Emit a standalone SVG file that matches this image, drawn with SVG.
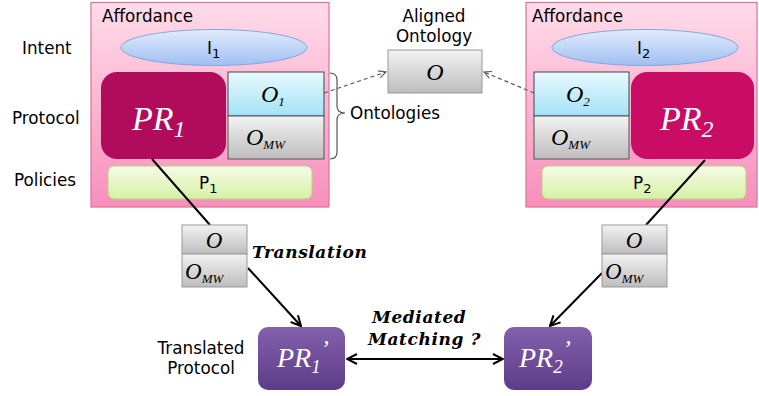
<svg xmlns="http://www.w3.org/2000/svg" width="759" height="396" viewBox="0 0 759 396">
<defs>
<linearGradient id="gPink" x1="0" y1="0" x2="0" y2="1"><stop offset="0" stop-color="#ffdce9"/><stop offset="1" stop-color="#f78fbb"/></linearGradient>
<linearGradient id="gBlue" x1="0" y1="0" x2="0" y2="1"><stop offset="0" stop-color="#e2ecfc"/><stop offset="1" stop-color="#9fbff2"/></linearGradient>
<linearGradient id="gCyan" x1="0" y1="0" x2="0" y2="1"><stop offset="0" stop-color="#e9f9fe"/><stop offset="1" stop-color="#a2e2f7"/></linearGradient>
<linearGradient id="gGray" x1="0" y1="0" x2="0" y2="1"><stop offset="0" stop-color="#f3f3f3"/><stop offset="1" stop-color="#bdbdbd"/></linearGradient>
<linearGradient id="gGreen" x1="0" y1="0" x2="0" y2="1"><stop offset="0" stop-color="#f6fce6"/><stop offset="1" stop-color="#d6f0a6"/></linearGradient>
<linearGradient id="gPurple" x1="0" y1="0" x2="0" y2="1"><stop offset="0" stop-color="#8460ac"/><stop offset="1" stop-color="#5c3c88"/></linearGradient>
<marker id="arr" viewBox="0 0 12 12" refX="11" refY="6" markerWidth="12" markerHeight="12" markerUnits="userSpaceOnUse" orient="auto-start-reverse"><path d="M1,1 L11,6 L1,11" fill="none" stroke="#000" stroke-width="2"/></marker>
<marker id="darr" viewBox="0 0 10 10" refX="9" refY="5" markerWidth="9" markerHeight="9" markerUnits="userSpaceOnUse" orient="auto"><path d="M1,1 L9,5 L1,9" fill="none" stroke="#555" stroke-width="1.2"/></marker>
</defs>
<style>
.lbl{font-family:"DejaVu Sans",Verdana,sans-serif;font-size:16.8px;fill:#000}
.math{font-family:"Liberation Serif","Times New Roman",serif;font-style:italic;fill:#000}
.script{font-family:"DejaVu Serif","Liberation Serif",serif;font-style:italic;font-weight:bold;fill:#000;letter-spacing:0.6px}
.aff{fill:url(#gPink);stroke:#e0709a;stroke-width:1.2}
.ell{fill:url(#gBlue);stroke:#86a6dc;stroke-width:1}
.cyan{fill:url(#gCyan);stroke:#444;stroke-width:1}
.gray{fill:url(#gGray);stroke:#555;stroke-width:1}
.gray2{fill:url(#gGray);stroke:#999;stroke-width:1}
.green{fill:url(#gGreen);stroke:#b5d47e;stroke-width:1}
.pr{fill:#fff;font-family:"Liberation Serif","Times New Roman",serif;font-style:italic}
.conn{stroke:#000;stroke-width:2;fill:none}
.dash{stroke:#555;stroke-width:1.2;stroke-dasharray:4,3;fill:none}
</style>

<g id="row-labels">
<text class="lbl" x="22" y="54">Intent</text>
<text class="lbl" x="12" y="124">Protocol</text>
<text class="lbl" x="14" y="186">Policies</text>
</g>

<g id="affordance1">
<rect class="aff" x="91" y="2.5" width="238" height="204.5"/>
<text class="lbl" x="102" y="22">Affordance</text>
</g>
<g id="intent1">
<ellipse class="ell" cx="214" cy="47.5" rx="93" ry="18"/>
<text class="lbl" x="207" y="54" font-size="17">I<tspan font-size="13" dy="4">1</tspan></text>
</g>
<g id="protocol1">
<rect x="101" y="72" width="125" height="87" rx="16" fill="#b00c5b"/>
<text class="pr" x="132" y="130" font-size="34">PR<tspan font-size="24" dy="7">1</tspan></text>
</g>
<g id="ontology1">
<rect class="cyan" x="228" y="72" width="96" height="44"/>
<text class="math" x="261" y="102" font-size="24">O<tspan font-size="13" dy="4">1</tspan></text>
</g>
<g id="omw1">
<rect class="gray" x="228" y="116" width="96" height="43"/>
<text class="math" x="246" y="145" font-size="24">O<tspan font-size="13" dy="4">MW</tspan></text>
</g>
<g id="policy1">
<rect class="green" x="108" y="166" width="204" height="33" rx="6"/>
<text class="lbl" x="199" y="189">P<tspan font-size="13" dy="4">1</tspan></text>
</g>

<g id="ontologies-brace">
<path d="M330,73 Q337,73 337,80 L337,106 Q337,113 345,113 Q337,113 337,120 L337,152 Q337,159 330,159" fill="none" stroke="#555" stroke-width="1.2"/>
<text class="lbl" x="350" y="119">Ontologies</text>
</g>

<g id="aligned-ontology">
<text class="lbl" x="434" y="22" text-anchor="middle">Aligned</text>
<text class="lbl" x="434" y="42" text-anchor="middle">Ontology</text>
<rect class="gray2" x="388" y="50" width="94" height="43"/>
<text class="math" x="435" y="80" font-size="24" text-anchor="middle">O</text>
</g>

<g id="affordance2">
<rect class="aff" x="526" y="2.5" width="231" height="204.5"/>
<text class="lbl" x="532" y="22">Affordance</text>
</g>
<g id="intent2">
<ellipse class="ell" cx="645" cy="47.5" rx="93" ry="18"/>
<text class="lbl" x="637" y="54" font-size="17">I<tspan font-size="13" dy="4">2</tspan></text>
</g>
<g id="ontology2">
<rect class="cyan" x="534" y="72" width="95" height="44"/>
<text class="math" x="566" y="102" font-size="24">O<tspan font-size="13" dy="4">2</tspan></text>
</g>
<g id="omw2">
<rect class="gray" x="534" y="116" width="95" height="43"/>
<text class="math" x="551" y="145" font-size="24">O<tspan font-size="13" dy="4">MW</tspan></text>
</g>
<g id="protocol2">
<rect x="631" y="72" width="123" height="87" rx="16" fill="#c90c64"/>
<text class="pr" x="660" y="130" font-size="34">PR<tspan font-size="24" dy="7">2</tspan></text>
</g>
<g id="policy2">
<rect class="green" x="542" y="166" width="204" height="33" rx="6"/>
<text class="lbl" x="633" y="189">P<tspan font-size="13" dy="4">2</tspan></text>
</g>

<g id="connectors">
<path class="dash" d="M324,93 L386,72" marker-end="url(#darr)"/>
<path class="dash" d="M534,93 L484,72" marker-end="url(#darr)"/>
<path class="conn" d="M152,159 L210,225"/>
<path class="conn" d="M248,268 L301,326" marker-end="url(#arr)"/>
<path class="conn" d="M705,160 L646,225"/>
<path class="conn" d="M602,273 L550,326" marker-end="url(#arr)"/>
<path class="conn" d="M347,359 L503,359" marker-start="url(#arr)" marker-end="url(#arr)"/>
</g>

<g id="translation1">
<rect class="gray2" x="182" y="225" width="65" height="29"/>
<rect class="gray2" x="182" y="254" width="65" height="33"/>
<text class="math" x="214" y="248" font-size="23" text-anchor="middle">O</text>
<text class="math" x="185" y="279" font-size="23">O<tspan font-size="13" dy="4">MW</tspan></text>
</g>
<text class="script" x="252" y="258" font-size="17">Translation</text>

<g id="translation2">
<rect class="gray2" x="602" y="225" width="65" height="29"/>
<rect class="gray2" x="602" y="254" width="65" height="33"/>
<text class="math" x="634" y="248" font-size="23" text-anchor="middle">O</text>
<text class="math" x="605" y="279" font-size="23">O<tspan font-size="13" dy="4">MW</tspan></text>
</g>

<g id="translated-protocol-label">
<text class="lbl" x="201" y="354" text-anchor="middle">Translated</text>
<text class="lbl" x="201" y="374" text-anchor="middle">Protocol</text>
</g>

<g id="pr1prime">
<rect x="258" y="327" width="87" height="63" rx="10" fill="url(#gPurple)"/>
<text class="pr" x="277" y="367" font-size="28">PR<tspan font-size="19" dy="6">1</tspan><tspan font-size="24" dy="-17">’</tspan></text>
</g>
<g id="pr2prime">
<rect x="504" y="327" width="88" height="63" rx="10" fill="url(#gPurple)"/>
<text class="pr" x="519" y="367" font-size="28">PR<tspan font-size="19" dy="6">2</tspan><tspan font-size="24" dy="-17">’</tspan></text>
</g>

<g id="mediated-label">
<text class="script" x="372" y="323" font-size="17">Mediated</text>
<text class="script" x="368" y="345" font-size="17">Matching ?</text>
</g>
</svg>
